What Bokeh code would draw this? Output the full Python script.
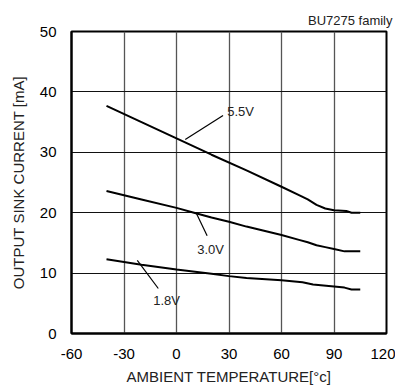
from bokeh.plotting import figure
from bokeh.models import Range1d, FixedTicker, Label
from bokeh.embed import file_html
from bokeh.resources import INLINE

x_ticks = [-60, -30, 0, 30, 60, 90, 120]
y_ticks = [0, 10, 20, 30, 40, 50]

t_55 = [-40, -20, 0, 20, 40, 60, 70, 75, 80, 85, 90, 97, 100, 105]
i_55 = [37.7, 35.0, 32.3, 29.6, 27.0, 24.3, 22.9, 22.2, 21.3, 20.7, 20.4, 20.3, 20.0, 20.0]

t_30 = [-40, -20, 0, 10, 20, 30, 40, 50, 60, 70, 75, 80, 85, 90, 96, 105]
i_30 = [23.6, 22.2, 20.8, 20.0, 19.2, 18.5, 17.7, 17.0, 16.3, 15.5, 15.1, 14.6, 14.3, 14.0, 13.6, 13.6]

t_18 = [-40, -20, 0, 20, 30, 40, 60, 72, 78, 90, 96, 100, 105]
i_18 = [12.3, 11.4, 10.6, 9.9, 9.5, 9.2, 8.8, 8.5, 8.1, 7.8, 7.6, 7.3, 7.3]

series_labels = ["5.5V", "3.0V", "1.8V"]

FONT = "Liberation Sans"

p = figure(width=395, height=387, output_backend="svg", toolbar_location=None,
           x_range=Range1d(-60, 120), y_range=Range1d(0, 50),
           min_border_left=71, min_border_right=9, min_border_top=31, min_border_bottom=54,
           title="BU7275 family")

p.title.align = "right"
p.title.offset = -6
p.title.text_font = FONT
p.title.text_font_size = "13px"
p.title.text_font_style = "normal"
p.title.text_color = "#222222"
p.title.standoff = 7

p.outline_line_color = "black"
p.outline_line_width = 2

for ax, ticks in ((p.xaxis, x_ticks), (p.yaxis, y_ticks)):
    ax.ticker = FixedTicker(ticks=ticks)
    ax.major_label_overrides = {t: str(t) for t in ticks}
    ax.major_tick_line_color = None
    ax.minor_tick_line_color = None
    ax.axis_line_color = "black"
    ax.axis_line_width = 2
    ax.major_label_text_font = FONT
    ax.major_label_text_font_size = "15px"
    ax.major_label_text_color = "black"
    ax.axis_label_text_font = FONT
    ax.axis_label_text_font_size = "15px"
    ax.axis_label_text_font_style = "normal"
    ax.axis_label_text_color = "#222222"

p.xaxis.axis_label = "AMBIENT TEMPERATURE[°c]"
p.yaxis.axis_label = "OUTPUT SINK CURRENT [mA]"
p.xaxis.major_label_standoff = 9
p.yaxis.major_label_standoff = 9
p.xaxis.axis_label_standoff = 6
p.yaxis.axis_label_standoff = 10

p.xgrid.grid_line_color = "#555555"
p.xgrid.grid_line_width = 1.3
p.ygrid.grid_line_color = "#111111"
p.ygrid.grid_line_width = 1

for t, i in ((t_55, i_55), (t_30, i_30), (t_18, i_18)):
    p.line(t, i, line_color="black", line_width=2)

# leader lines
p.line([26.6, 5.0], [36.1, 32.1], line_color="black", line_width=1.2)
p.line([17.5, 11.2], [16.2, 20.0], line_color="black", line_width=1.2)
p.line([-10.4, -22.4], [7.45, 12.1], line_color="black", line_width=1.2)

for (lx, ly), txt in zip(((29.0, 36.8), (11.8, 13.9), (-13.3, 5.5)), series_labels):
    p.add_layout(Label(x=lx, y=ly, text=txt, text_font=FONT, text_font_size="13px",
                       text_color="#222222", text_baseline="middle", text_align="left"))

open("out.html", "w").write(file_html(p, INLINE))
